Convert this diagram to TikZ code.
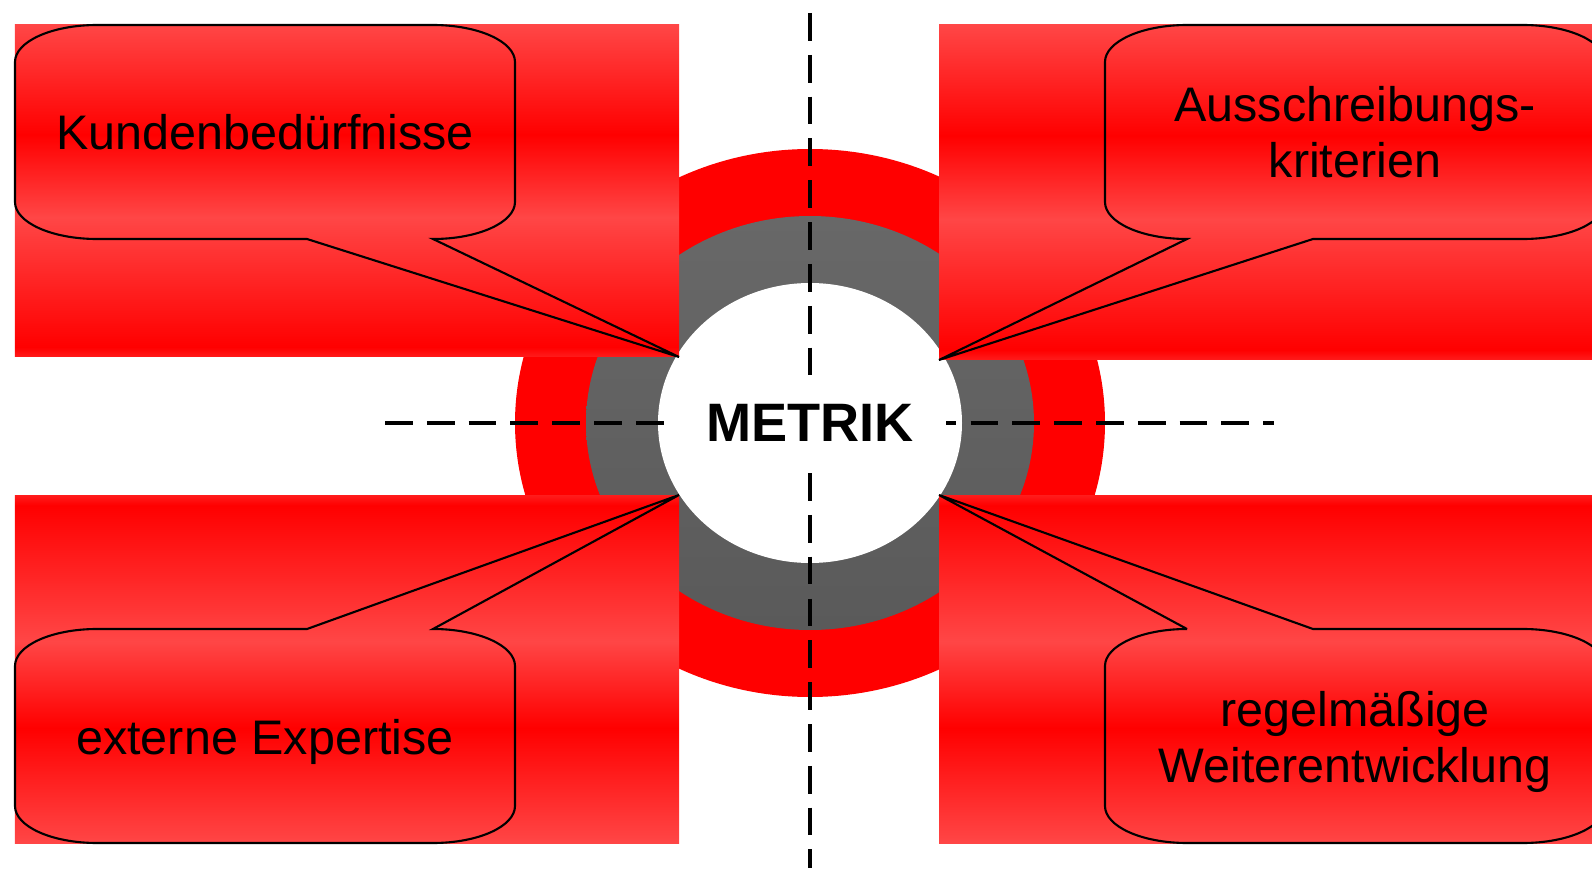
\documentclass[tikz,border=0pt]{standalone}
\usepackage{fontspec}
\setmainfont{Liberation Sans}
\usepackage{tikz}
\usetikzlibrary{positioning}
\definecolor{panellight}{RGB}{255,70,70}
\definecolor{panelmid}{RGB}{255,28,28}
\definecolor{ringtop}{RGB}{104,104,104}
\definecolor{ringbot}{RGB}{90,90,90}
\pgfdeclareverticalshading{panelshade}{100bp}{color(0bp)=(panelmid); color(25bp)=(panelmid); color(26.5bp)=(red); color(46bp)=(panellight); color(58.5bp)=(red); color(75bp)=(panellight); color(100bp)=(panellight)}

\begin{document}
\begin{tikzpicture}[every node/.style={on grid},
    redpanel/.style={shading=panelshade},
    bubble/.style={draw,line width=0.6pt,x radius=0.82,y radius=0.37},
    bubbletext/.style={align=center,font=\fontsize{13.8}{15.9}\selectfont},
    crossline/.style={line width=0.95pt,dash pattern=on 7.9pt off 4pt}]
    \useasboundingbox (0,0) rectangle (15.92,8.68);
    % rings
    \fill[red] (8.10,4.45) ellipse [x radius=2.95,y radius=2.74];
    \shade[top color=ringtop,bottom color=ringbot] (8.10,4.45) ellipse [x radius=2.24,y radius=2.07];
    \fill[white] (8.10,4.45) ellipse [x radius=1.52,y radius=1.40];
    % panels
    \shade[redpanel] (0.15,5.11) rectangle (6.79,8.43);
    \shade[redpanel] (9.39,5.08) rectangle (15.92,8.43);
    \shade[redpanel,shading angle=180] (0.15,0.25) rectangle (6.79,3.73);
    \shade[redpanel,shading angle=180] (9.39,0.25) rectangle (15.92,3.73);
    \coordinate (KTip) at (6.79,5.11);
    \coordinate (ATip) at (9.39,5.08);
    \coordinate (ETip) at (6.79,3.73);
    \coordinate (RTip) at (9.39,3.73);
    % speech bubbles
    \draw[bubble] (0.97,8.43) -- (4.33,8.43) arc[start angle=90,end angle=0] -- (5.15,6.66) arc[start angle=0,end angle=-90]
      -- (KTip) -- (3.07,6.29) -- (0.97,6.29) arc[start angle=270,end angle=180] -- (0.15,8.06) arc[start angle=180,end angle=90] -- cycle;
    \draw[bubble] (11.87,8.43) -- (15.23,8.43) arc[start angle=90,end angle=0] -- (16.05,6.66) arc[start angle=0,end angle=-90]
      -- (13.13,6.29) -- (ATip) -- (11.87,6.29) arc[start angle=270,end angle=180] -- (11.05,8.06) arc[start angle=180,end angle=90] -- cycle;
    \draw[bubble] (0.97,2.39) -- (3.07,2.39) -- (ETip) -- (4.33,2.39) arc[start angle=90,end angle=0] -- (5.15,0.62) arc[start angle=0,end angle=-90]
      -- (0.97,0.25) arc[start angle=270,end angle=180] -- (0.15,2.02) arc[start angle=180,end angle=90] -- cycle;
    \draw[bubble] (11.87,2.39) -- (RTip) -- (13.13,2.39) -- (15.23,2.39) arc[start angle=90,end angle=0] -- (16.05,0.62) arc[start angle=0,end angle=-90]
      -- (11.87,0.25) arc[start angle=270,end angle=180] -- (11.05,2.02) arc[start angle=180,end angle=90] -- cycle;
    % axes
    \coordinate (HLeft) at (3.85,4.45);
    \coordinate (HRight) at (12.74,4.45);
    \coordinate (VTop) at (8.10,8.55);
    \coordinate (VBottom) at (8.10,0);
    \draw[crossline] (HLeft) -- (HRight);
    \draw[crossline] (VTop) -- (VBottom);
    \node[fill=white,inner sep=0pt,minimum width=2.72cm,minimum height=0.84cm,font=\bfseries\fontsize{15.4}{18}\selectfont] (Metrik) at (8.10,4.45) {METRIK};
    \node[bubbletext,above left=2.91cm and 5.45cm of Metrik] (Kunden) {Kundenbedürfnisse};
    \node[bubbletext,above right=2.91cm and 5.45cm of Metrik] (Ausschreibung) {Ausschreibungs-\\kriterien};
    \node[bubbletext,below left=3.19cm and 5.45cm of Metrik] (Expertise) {externe Expertise};
    \node[bubbletext,below right=3.19cm and 5.45cm of Metrik] (Weiterentwicklung) {regelmäßige\\Weiterentwicklung};
\end{tikzpicture}
\end{document}
